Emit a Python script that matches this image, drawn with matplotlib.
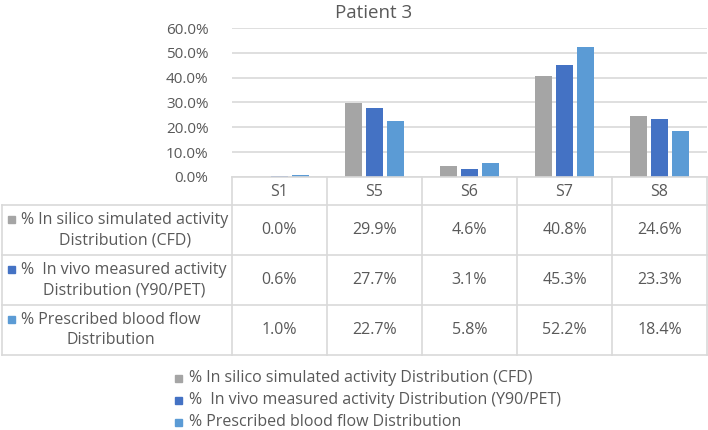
import numpy as np
import matplotlib
matplotlib.use("Agg")
from matplotlib import pyplot as plt
from matplotlib import transforms
from matplotlib.patches import Rectangle

plt.rcParams["font.family"] = ["Open Sans", "DejaVu Sans"]

segments = ["S1", "S5", "S6", "S7", "S8"]
cfd = [0.0, 29.9, 4.6, 40.8, 24.6]
y90 = [0.6, 27.7, 3.1, 45.3, 23.3]
flow = [1.0, 22.7, 5.8, 52.2, 18.4]
series_labels = [
    "% In silico simulated activity Distribution (CFD)",
    "%  In vivo measured activity Distribution (Y90/PET)",
    "% Prescribed blood flow Distribution",
]
row_labels = [
    "% In silico simulated activity\nDistribution (CFD)",
    "%  In vivo measured activity\nDistribution (Y90/PET)",
    "% Prescribed blood flow\nDistribution",
]
colors = ["#A5A5A5", "#4472C4", "#5B9BD5"]
text_col = "#595959"
grid_col = "#D9D9D9"

W, H = 708, 430
fx = lambda p: p / W
fy = lambda p: 1 - p / H

fig = plt.figure(figsize=(W / 100, H / 100), dpi=100)
ax = fig.add_axes([fx(232), fy(177), fx(707) - fx(232), fy(28) - fy(177)])

x = np.arange(len(segments))
bw = 0.18
step = 0.225
for i, (vals, c) in enumerate(zip([cfd, y90, flow], colors)):
    ax.bar(x + (i - 1) * step, np.array(vals) / 100, width=bw, color=c, zorder=3)

ax.set_xlim(-0.5, len(segments) - 0.5)
ax.set_ylim(0, 0.6)
ax.set_yticks(np.arange(0, 0.61, 0.1))
ax.set_yticklabels([f"{v * 100:.1f}%" for v in np.arange(0, 0.61, 0.1)])
ax.tick_params(axis="y", length=0, pad=17, labelsize=11, labelcolor=text_col)
ax.set_xticks([])
ax.grid(axis="y", color=grid_col, linewidth=1.2, zorder=0)
for s in ax.spines.values():
    s.set_visible(False)

fig.text(fx(374), fy(13), "Patient 3", ha="center", va="center", fontsize=13.5, color=text_col)

# data table below the plot
blend = transforms.blended_transform_factory(ax.transData, fig.transFigure)
row_edges = [177, 205, 255, 305, 355]
line_kw = dict(color=grid_col, linewidth=1.2, clip_on=False)

# horizontal lines
fig.add_artist(plt.Line2D([fx(232), fx(707)], [fy(177)] * 2, **line_kw))
for ye in row_edges[1:]:
    fig.add_artist(plt.Line2D([fx(2), fx(707)], [fy(ye)] * 2, **line_kw))
# vertical lines
for xe in np.arange(len(segments) + 1) - 0.5:
    fig.add_artist(plt.Line2D([xe, xe], [fy(177), fy(355)], transform=blend, **line_kw))
fig.add_artist(plt.Line2D([fx(2), fx(2)], [fy(205), fy(355)], **line_kw))

fs = 11.5
for j, seg in enumerate(segments):
    fig.text(j, fy(192), seg, transform=blend, ha="center", va="center",
             fontsize=fs, color=text_col)

for r, (vals, lab, c) in enumerate(zip([cfd, y90, flow], row_labels, colors)):
    ymid = (row_edges[r + 1] + row_edges[r + 2]) / 2
    for j, v in enumerate(vals):
        fig.text(j, fy(ymid), f"{v:.1f}%", transform=blend, ha="center", va="center",
                 fontsize=fs, color=text_col)
    fig.text(fx(21), fy(ymid), lab, ha="left", va="center", multialignment="center",
             fontsize=fs, color=text_col, linespacing=1.4)
    fig.add_artist(Rectangle((fx(8), fy(ymid - 7.5)), fx(7), fy(0) - fy(7),
                             color=c, transform=fig.transFigure))

# legend
for k, (lab, c) in enumerate(zip(series_labels, colors)):
    yl = 378 + 22 * k
    fig.add_artist(Rectangle((fx(175), fy(yl + 3.5)), fx(7), fy(0) - fy(7),
                             color=c, transform=fig.transFigure))
    fig.text(fx(189), fy(yl), lab, ha="left", va="center", fontsize=fs, color=text_col)

fig.savefig("out.png", dpi=100)
